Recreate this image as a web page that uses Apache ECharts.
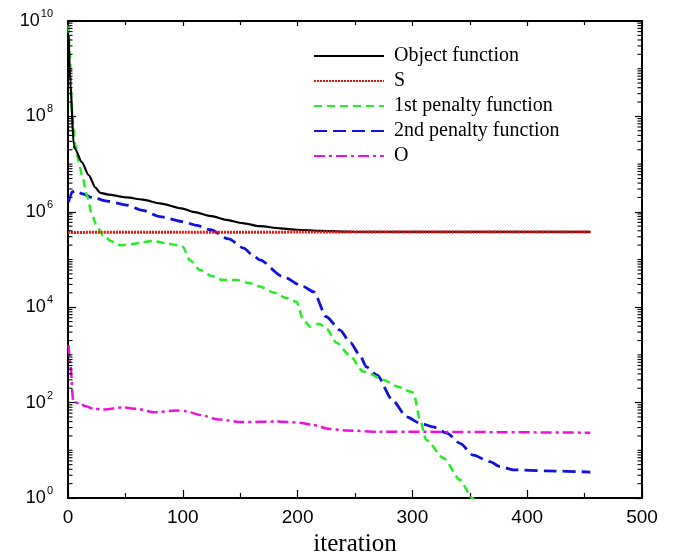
<!DOCTYPE html>
<html>
<head>
<meta charset="utf-8">
<script src="https://cdn.jsdelivr.net/npm/echarts@6/dist/echarts.min.js"></script>
<style>
html,body{margin:0;padding:0;background:#fff;}
#chart{width:676px;height:553px;}
</style>
</head>
<body>
<div id="chart"></div>
<script>
// ---- data (iteration, value) ----
const seriesNames = ['Object function', 'S', '1st penalty function', '2nd penalty function', 'O'];

const objectFunction = [
  [0.5, 5e9], [2, 5.4e8], [5, 2.5e7], [6, 2.1e7], [12, 1.1e7], [18, 5.9e6], [24, 3.2e6],
  [28, 2.5e6], [35, 2.3e6], [51, 2.0e6], [65, 1.8e6], [80, 1.5e6], [100, 1.17e6],
  [109, 1.0e6], [125, 8.1e5], [138, 6.8e5], [152, 5.8e5], [167, 5.0e5], [185, 4.5e5],
  [200, 4.2e5], [220, 4.0e5], [240, 3.85e5], [260, 3.78e5], [455, 3.78e5]
];

const sValues = [
  [0, 3.7e5], [100, 3.72e5], [200, 3.75e5], [300, 3.75e5], [455, 3.75e5]
];

const penalty1 = [
  [0.5, 8.3e9], [1.5, 2e9], [3.5, 1.07e8], [6.4, 2.5e7], [9.3, 1.1e7], [12.2, 5.9e6],
  [16.5, 2.2e6], [21, 8.5e5], [25, 5e5], [30.5, 3.2e5], [38, 2.4e5], [45, 2.0e5],
  [55, 2.1e5], [65, 2.3e5], [74, 2.45e5], [85, 2.2e5], [95, 2.0e5], [100, 1.86e5],
  [106, 9.8e4], [115, 6.0e4], [125, 4.5e4], [135, 3.7e4], [147, 3.7e4], [158, 3.2e4],
  [167, 2.7e4], [180, 2.0e4], [190, 1.55e4], [199, 1.3e4], [205, 5.4e3], [211, 3.9e3],
  [219, 4.5e3], [225, 3.6e3], [234, 1.8e3], [245, 1.0e3], [257, 4.5e2], [263, 4.0e2],
  [274, 3.0e2], [289, 2.1e2], [298, 1.7e2], [301, 1.6e2], [306.6, 44], [312, 16.6],
  [327, 6.9], [341.5, 2.4], [352, 1.0], [360, 0.5]
];

const penalty2 = [
  [0.5, 1.6e6], [2, 2.1e6], [3.5, 2.6e6], [7.5, 2.75e6], [12, 2.4e6], [22, 1.95e6],
  [35, 1.66e6], [51, 1.38e6], [65, 1.07e6], [80, 7.9e5], [100, 6.2e5], [112, 5.2e5],
  [124, 4.2e5], [140, 2.7e5], [153, 1.74e5], [161, 1.23e5], [167, 9.8e4], [187, 4.4e4],
  [205, 2.7e4], [214, 2.1e4], [225, 6.3e3], [237, 3.3e3], [246, 1.8e3], [254, 1.0e3],
  [260, 5.6e2], [269, 3.8e2], [283, 1.1e2], [295, 50], [306.6, 37], [318, 31],
  [330, 23], [341.5, 14], [353, 7.9], [367.6, 5.8], [376, 4.6], [388, 3.9], [417, 3.7],
  [455, 3.5]
];

const oValues = [
  [0.5, 1.6e3], [2, 6.3e2], [4.6, 105], [10.5, 95], [15, 85], [22, 74], [31, 72],
  [48, 79], [60, 74], [74, 63], [94.7, 68], [103, 66], [115, 55], [132, 44], [152, 39],
  [182, 40], [202, 38], [213, 34], [228, 28], [243, 26], [272, 24.5], [455, 23.4]
];

const xTicks = [0, 100, 200, 300, 400, 500];
const yLabelExponents = [0, 2, 4, 6, 8, 10];

// minor tick positions on the log axis (2..9 in each decade, plus odd decades)
const minorTicks = [];
for (let e = 0; e < 10; e++) {
  for (let m = 2; m <= 10; m++) {
    if (m === 10 && (e + 1) % 2 === 0) continue;
    minorTicks.push([0, m * Math.pow(10, e)]);
  }
}

const chart = echarts.init(document.getElementById('chart'), null, {renderer: 'canvas'});

const sansFont = 'Liberation Sans';
const serifFont = 'Liberation Serif';

function lineSeries(name, data, color, width, type, z) {
  return {
    name: name, type: 'line', data: data, showSymbol: false, symbol: 'none',
    lineStyle: {color: color, width: width, type: type, cap: 'butt'},
    itemStyle: {color: color},
    smooth: 0.25, smoothMonotone: 'x', clip: true, z: z
  };
}

const option = {
  animation: false,
  backgroundColor: '#fff',
  grid: {left: 68, right: 34, top: 21, bottom: 55, containLabel: false, outerBoundsMode: 'none'},
  legend: {
    data: seriesNames,
    orient: 'vertical',
    left: 313, top: 46, padding: 0,
    itemWidth: 70, itemHeight: 14, itemGap: 5,
    itemStyle: {opacity: 0},
    textStyle: {fontFamily: serifFont, fontSize: 20, color: '#000', padding: [0, 0, 0, 5]}
  },
  xAxis: [{
    type: 'value', min: 0, max: 500, interval: 100, position: 'bottom',
    name: 'iteration', nameLocation: 'middle', nameGap: 28,
    nameTextStyle: {fontFamily: serifFont, fontSize: 25, color: '#000'},
    axisLine: {show: true, onZero: false, lineStyle: {color: '#000', width: 2}},
    axisTick: {show: true, inside: true, length: 8, lineStyle: {color: '#000', width: 1.2}},
    minorTick: {show: true, splitNumber: 2, length: 5, lineStyle: {color: '#000', width: 1.2}},
    axisLabel: {fontFamily: sansFont, fontSize: 19, color: '#000', margin: 10,
      formatter: function (v) { return xTicks.indexOf(v) >= 0 ? String(v) : ''; }},
    splitLine: {show: false}
  }, {
    type: 'value', min: 0, max: 500, interval: 100, position: 'top',
    axisLine: {show: true, onZero: false, lineStyle: {color: '#000', width: 2}},
    axisTick: {show: true, inside: true, length: 5, lineStyle: {color: '#000', width: 1.2}},
    minorTick: {show: true, splitNumber: 2, length: 4, lineStyle: {color: '#000', width: 1.2}},
    axisLabel: {show: false}, splitLine: {show: false}
  }],
  yAxis: [{
    type: 'log', logBase: 10, min: 1, max: 1e10, interval: 2, position: 'left',
    axisLine: {show: true, onZero: false, lineStyle: {color: '#000', width: 2}},
    axisTick: {show: true, inside: true, length: 8, lineStyle: {color: '#000', width: 1.2}},
    axisLabel: {
      margin: 15, color: '#000',
      formatter: function (v) {
        const e = Math.round(Math.log10(v));
        if (yLabelExponents.indexOf(e) < 0) return '';
        return '{b|10}{s|' + e + '}';
      },
      rich: {
        b: {fontFamily: sansFont, fontSize: 18, color: '#000'},
        s: {fontFamily: sansFont, fontSize: 11, color: '#000', padding: [0, 0, 14, 1]}
      }
    },
    splitLine: {show: false}
  }, {
    type: 'log', logBase: 10, min: 1, max: 1e10, interval: 2, position: 'right',
    axisLine: {show: true, onZero: false, lineStyle: {color: '#000', width: 2}},
    axisTick: {show: true, inside: true, length: 7, lineStyle: {color: '#000', width: 1.2}},
    axisLabel: {show: false}, splitLine: {show: false}
  }],
  series: [
    lineSeries('Object function', objectFunction, '#000000', 2.2, 'solid', 5),
    lineSeries('S', sValues, '#ee1111', 3, [2, 1], 6),
    lineSeries('1st penalty function', penalty1, '#22ee22', 2.5, [8, 5], 4),
    lineSeries('2nd penalty function', penalty2, '#1111dd', 2.8, [13, 6], 3),
    lineSeries('O', oValues, '#ee11dd', 2.5, [11, 4, 3, 4], 3),
    {
      type: 'custom', name: 'minorTicks', silent: true, clip: false, z: 10,
      data: minorTicks,
      renderItem: function (params, api) {
        const v = api.value(1);
        const pL = api.coord([0, v]);
        const pR = api.coord([500, v]);
        return {
          type: 'group',
          children: [
            {type: 'line', shape: {x1: pL[0], y1: pL[1], x2: pL[0] + 4.5, y2: pL[1]},
             style: {stroke: '#000', lineWidth: 1.1}},
            {type: 'line', shape: {x1: pR[0], y1: pR[1], x2: pR[0] - 4.5, y2: pR[1]},
             style: {stroke: '#000', lineWidth: 1.1}}
          ]
        };
      }
    }
  ]
};

chart.setOption(option);
</script>
</body>
</html>
